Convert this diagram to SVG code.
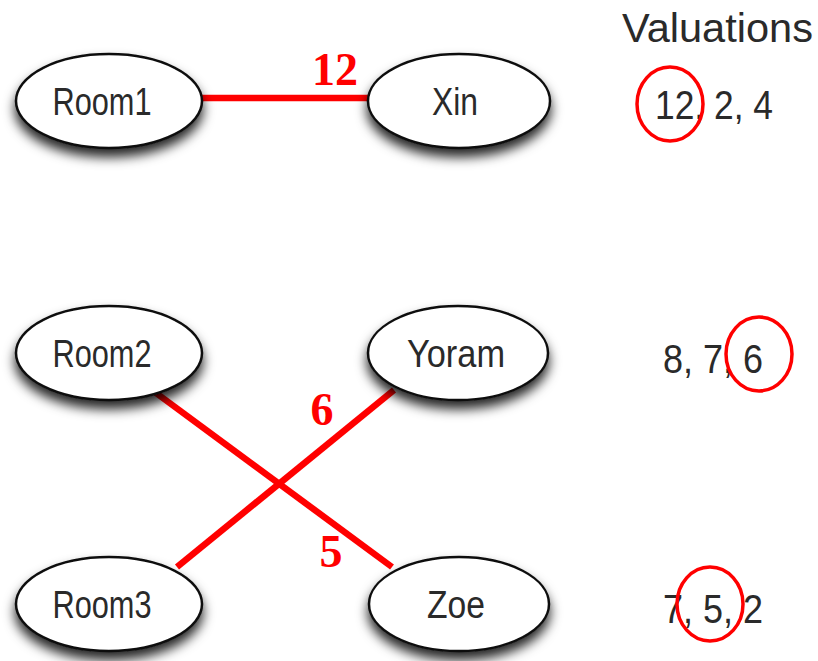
<svg xmlns="http://www.w3.org/2000/svg" width="818" height="661" viewBox="0 0 818 661">
  <defs>
    <filter id="shadow" x="-30%" y="-30%" width="160%" height="190%">
      <feDropShadow dx="0" dy="8" stdDeviation="6" flood-color="#000" flood-opacity="0.85"/>
    </filter>
  </defs>
  <style>
    .node ellipse { fill: #fff; stroke: #111; stroke-width: 2.5; filter: url(#shadow); }
    .node text { font-family: "Liberation Sans", Arial, sans-serif; font-size: 38px; fill: #2a2a2a; text-anchor: middle; }
    .edge { stroke: #ff0000; stroke-width: 6.5; fill: none; }
    .weight { font-family: "Liberation Serif", "Times New Roman", serif; font-weight: bold; font-size: 46px; fill: #ff0000; }
    .val { font-family: "Liberation Sans", Arial, sans-serif; font-size: 40px; fill: #2a2a2a; }
    .pick { fill: none; stroke: #ff0000; stroke-width: 3.5; }
  </style>

  <rect width="818" height="661" fill="#fff"/>

  <!-- assignments -->
  <g id="connectors">
    <line class="edge" x1="200" y1="98" x2="370" y2="98"/>
    <line class="edge" x1="152" y1="390" x2="392" y2="567"/>
    <line class="edge" x1="394" y1="390" x2="177" y2="567"/>
    <text class="weight" x="335" y="85" text-anchor="middle">12</text>
    <text class="weight" x="322" y="425" text-anchor="middle">6</text>
    <text class="weight" x="331" y="567" text-anchor="middle">5</text>
  </g>

  <g id="room1" class="node">
    <ellipse cx="109" cy="101" rx="93" ry="47"/>
    <text x="102" y="115" textLength="99" lengthAdjust="spacingAndGlyphs">Room1</text>
  </g>
  <g id="xin" class="node">
    <ellipse cx="459" cy="101" rx="91" ry="47"/>
    <text x="455" y="115" textLength="46" lengthAdjust="spacingAndGlyphs">Xin</text>
  </g>
  <g id="room2" class="node">
    <ellipse cx="109" cy="353" rx="93" ry="47"/>
    <text x="102" y="367" textLength="99" lengthAdjust="spacingAndGlyphs">Room2</text>
  </g>
  <g id="yoram" class="node">
    <ellipse cx="458" cy="353" rx="90" ry="47"/>
    <text x="456" y="367" textLength="98" lengthAdjust="spacingAndGlyphs">Yoram</text>
  </g>
  <g id="room3" class="node">
    <ellipse cx="109" cy="604" rx="93" ry="47"/>
    <text x="102" y="618" textLength="99" lengthAdjust="spacingAndGlyphs">Room3</text>
  </g>
  <g id="zoe" class="node">
    <ellipse cx="459" cy="604" rx="90" ry="47"/>
    <text x="456" y="618" textLength="58" lengthAdjust="spacingAndGlyphs">Zoe</text>
  </g>

  <!-- valuation table -->
  <g id="valuations">
    <text class="val" x="622" y="42" font-size="42" textLength="191" lengthAdjust="spacingAndGlyphs">Valuations</text>
    <text class="val" x="655" y="119" textLength="118" lengthAdjust="spacingAndGlyphs">12, 2, 4</text>
    <text class="val" x="663" y="373" textLength="100" lengthAdjust="spacingAndGlyphs">8, 7, 6</text>
    <text class="val" x="663" y="623" textLength="100" lengthAdjust="spacingAndGlyphs">7, 5, 2</text>
    <ellipse class="pick" cx="670" cy="104" rx="33" ry="37"/>
    <ellipse class="pick" cx="759" cy="354" rx="33" ry="37"/>
    <ellipse class="pick" cx="710" cy="604" rx="33" ry="37"/>
  </g>
</svg>
